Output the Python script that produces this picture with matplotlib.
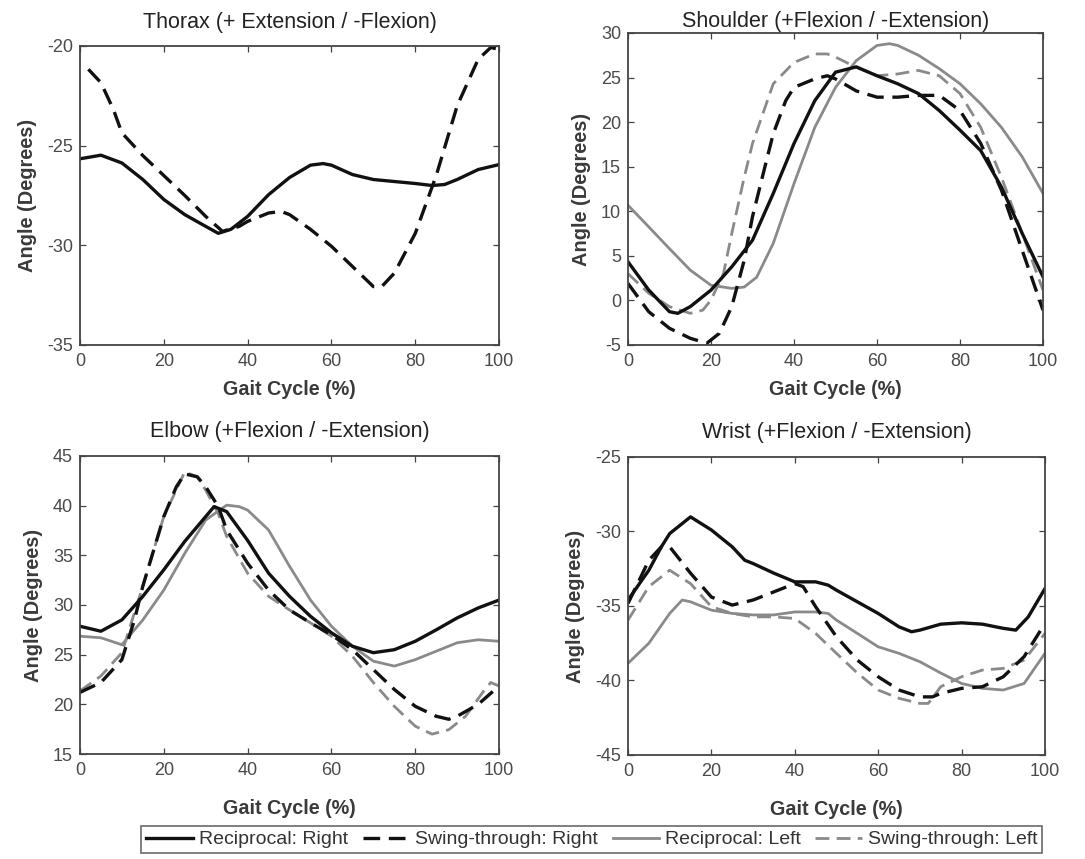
import matplotlib
matplotlib.use("Agg")
import matplotlib.pyplot as plt
from matplotlib.lines import Line2D

plt.rcParams['font.family'] = ['Liberation Sans', 'DejaVu Sans']
plt.rcParams['axes.unicode_minus'] = False

# ---------------- data ----------------
thorax_rr_x = [0, 5, 10, 15, 20, 25, 30, 33, 36, 40, 45, 50, 55, 58, 60, 65, 70, 75, 80, 84, 87, 90, 95, 100]
thorax_rr_y = [-25.66, -25.48, -25.87, -26.7, -27.7, -28.46, -29.05, -29.4, -29.2, -28.55, -27.46, -26.6,
               -25.98, -25.9, -25.98, -26.45, -26.7, -26.8, -26.9, -27.0, -26.95, -26.7, -26.2, -25.95]
thorax_sr_x = [2, 5, 8, 10, 15, 20, 25, 30, 34, 38, 40, 45, 48, 50, 55, 60, 65, 70, 72, 75, 80, 85, 90, 95, 98, 100]
thorax_sr_y = [-21.17, -21.84, -23.2, -24.36, -25.5, -26.5, -27.5, -28.55, -29.3, -29.05, -28.8, -28.38, -28.3,
               -28.46, -29.2, -30.05, -31.06, -32.07, -32.07, -31.4, -29.4, -26.5, -23.0, -20.67, -20.08, -20.17]

shoulder_rr_x = [0, 5, 10, 12, 15, 20, 25, 30, 35, 40, 45, 50, 55, 60, 65, 70, 75, 80, 85, 90, 95, 100]
shoulder_rr_y = [4.33, 1.16, -1.27, -1.45, -0.7, 1.16, 3.77, 6.75, 12.0, 17.6, 22.4, 25.6, 26.2, 25.2, 24.3,
                 23.2, 21.3, 19.1, 16.8, 12.7, 7.5, 2.65]
shoulder_sr_x = [0, 5, 10, 15, 19, 22, 25, 28, 30, 33, 35, 38, 40, 45, 48, 50, 55, 60, 65, 70, 75, 80, 85, 90, 95, 100]
shoulder_sr_y = [1.9, -1.27, -3.13, -4.25, -4.8, -3.7, -0.7, 4.5, 9.4, 15.0, 18.7, 22.4, 23.9, 24.85, 25.2,
                 24.85, 23.5, 22.8, 22.8, 23.0, 23.0, 21.3, 17.6, 12.35, 5.6, -1.1]
shoulder_rl_x = [0, 5, 10, 15, 20, 25, 28, 31, 35, 40, 45, 50, 55, 60, 63, 65, 70, 75, 80, 85, 90, 95, 100]
shoulder_rl_y = [10.67, 8.25, 5.8, 3.4, 1.7, 1.35, 1.5, 2.6, 6.4, 13.1, 19.4, 23.9, 26.9, 28.6, 28.8, 28.6,
                 27.5, 26.0, 24.3, 22.05, 19.4, 16.1, 12.0]
shoulder_sl_x = [0, 5, 10, 15, 18, 20, 23, 25, 28, 30, 35, 40, 45, 48, 50, 55, 60, 65, 70, 75, 80, 85, 90, 95, 100]
shoulder_sl_y = [3.0, 0.8, -0.7, -1.45, -1.1, 0.04, 3.0, 7.5, 13.8, 17.6, 24.3, 26.7, 27.65, 27.65, 27.3,
                 26.15, 25.2, 25.4, 25.8, 25.2, 23.2, 19.4, 13.8, 7.5, 1.15]

elbow_rr_x = [0, 5, 10, 15, 20, 25, 30, 32, 35, 40, 45, 50, 55, 60, 65, 70, 75, 80, 85, 90, 95, 100]
elbow_rr_y = [27.86, 27.36, 28.5, 30.87, 33.54, 36.4, 38.9, 39.9, 39.4, 36.5, 33.2, 30.87, 28.86, 27.2,
              25.85, 25.2, 25.5, 26.35, 27.5, 28.7, 29.7, 30.5]
elbow_sr_x = [0, 5, 10, 13, 15, 20, 23, 25, 28, 30, 33, 35, 40, 45, 50, 55, 60, 65, 70, 75, 80, 85, 88, 90, 95, 100]
elbow_sr_y = [21.2, 22.2, 24.5, 28.5, 31.9, 38.9, 41.9, 43.2, 42.9, 41.9, 39.9, 37.55, 34.2, 31.5, 29.5,
              28.2, 27.0, 25.5, 23.5, 21.5, 19.8, 18.8, 18.5, 18.8, 20.0, 21.85]
elbow_rl_x = [0, 5, 10, 15, 20, 25, 30, 35, 38, 40, 45, 50, 55, 60, 65, 70, 75, 80, 85, 90, 95, 100]
elbow_rl_y = [26.86, 26.7, 26.0, 28.5, 31.5, 35.2, 38.55, 40.05, 39.9, 39.55, 37.55, 33.9, 30.5, 27.86,
              25.85, 24.35, 23.85, 24.5, 25.35, 26.2, 26.5, 26.35]
elbow_sl_x = [0, 5, 10, 15, 20, 25, 28, 30, 33, 35, 40, 45, 50, 55, 60, 65, 70, 75, 80, 84, 88, 92, 96, 98, 100]
elbow_sl_y = [21.35, 22.85, 25.2, 31.9, 38.9, 43.4, 42.9, 41.55, 39.2, 36.9, 33.2, 30.87, 29.5, 28.2, 26.86,
              24.85, 22.2, 19.8, 17.8, 17.0, 17.45, 18.8, 21.15, 22.2, 21.85]

wrist_rr_x = [0, 5, 8, 10, 15, 20, 25, 28, 30, 35, 40, 45, 48, 50, 55, 60, 65, 68, 70, 75, 80, 85, 90, 93, 96, 100]
wrist_rr_y = [-34.6, -32.6, -31.03, -30.14, -29.02, -29.9, -31.03, -31.93, -32.15, -32.8, -33.38, -33.38,
              -33.6, -33.94, -34.72, -35.5, -36.4, -36.73, -36.62, -36.22, -36.13, -36.22, -36.5, -36.62,
              -35.73, -33.83]
wrist_sr_x = [0, 5, 8, 10, 15, 20, 25, 30, 35, 40, 42, 45, 50, 55, 60, 65, 70, 73, 75, 80, 85, 90, 95, 100]
wrist_sr_y = [-34.83, -31.93, -31.03, -31.03, -32.8, -34.4, -34.94, -34.6, -34.05, -33.5, -33.7, -35.05,
              -37.07, -38.63, -39.75, -40.64, -41.1, -41.1, -40.87, -40.53, -40.42, -39.75, -38.4, -36.17]
wrist_rl_x = [0, 5, 10, 13, 15, 20, 25, 30, 35, 40, 45, 48, 50, 55, 60, 65, 70, 75, 80, 85, 90, 95, 100]
wrist_rl_y = [-38.85, -37.5, -35.5, -34.6, -34.72, -35.28, -35.5, -35.6, -35.6, -35.4, -35.4, -35.5, -35.95,
              -36.84, -37.74, -38.18, -38.74, -39.5, -40.2, -40.53, -40.64, -40.2, -38.18]
wrist_sl_x = [0, 5, 10, 15, 20, 25, 30, 35, 40, 45, 50, 55, 60, 65, 70, 72, 75, 80, 85, 90, 95, 100]
wrist_sl_y = [-35.95, -33.7, -32.6, -33.5, -35.05, -35.5, -35.73, -35.73, -35.84, -36.84, -38.18, -39.5,
              -40.64, -41.2, -41.54, -41.54, -40.42, -39.75, -39.3, -39.19, -38.63, -36.84]

titles = ['Thorax (+ Extension / -Flexion)', 'Shoulder (+Flexion / -Extension)',
          'Elbow (+Flexion / -Extension)', 'Wrist (+Flexion / -Extension)']
ylims = [(-35, -20), (-5, 30), (15, 45), (-45, -25)]
yticks = [[-35, -30, -25, -20], [-5, 0, 5, 10, 15, 20, 25, 30],
          [15, 20, 25, 30, 35, 40, 45], [-45, -40, -35, -30, -25]]
xticks = [0, 20, 40, 60, 80, 100]
legend_labels = ['Reciprocal: Right', 'Swing-through: Right', 'Reciprocal: Left', 'Swing-through: Left']

# ---------------- styles ----------------
BLACK = '#111111'
GRAY = '#8a8a8a'
styles = {
    'rr': dict(color=BLACK, lw=2.4, ls='-'),
    'sr': dict(color=BLACK, lw=2.4, ls=(0, (5, 2.6))),
    'rl': dict(color=GRAY, lw=2.0, ls='-'),
    'sl': dict(color=GRAY, lw=2.0, ls=(0, (5, 2.6))),
}

panels = [
    {'rr': (thorax_rr_x, thorax_rr_y), 'sr': (thorax_sr_x, thorax_sr_y)},
    {'rr': (shoulder_rr_x, shoulder_rr_y), 'sr': (shoulder_sr_x, shoulder_sr_y),
     'rl': (shoulder_rl_x, shoulder_rl_y), 'sl': (shoulder_sl_x, shoulder_sl_y)},
    {'rr': (elbow_rr_x, elbow_rr_y), 'sr': (elbow_sr_x, elbow_sr_y),
     'rl': (elbow_rl_x, elbow_rl_y), 'sl': (elbow_sl_x, elbow_sl_y)},
    {'rr': (wrist_rr_x, wrist_rr_y), 'sr': (wrist_sr_x, wrist_sr_y),
     'rl': (wrist_rl_x, wrist_rl_y), 'sl': (wrist_sl_x, wrist_sl_y)},
]

positions = [
    [0.0737, 0.5984, 0.3863, 0.3481],
    [0.5788, 0.5984, 0.3825, 0.3632],
    [0.0737, 0.1222, 0.3863, 0.3470],
    [0.5788, 0.1211, 0.3843, 0.3469],
]
title_pads = [13, 4.5, 13.5, 14]

fig = plt.figure(figsize=(10.85, 8.59), dpi=100)
fig.patch.set_facecolor('white')

for i, (pos, data) in enumerate(zip(positions, panels)):
    ax = fig.add_axes(pos)
    for key in ['rl', 'sl', 'rr', 'sr']:
        if key in data:
            x, y = data[key]
            ax.plot(x, y, **styles[key])
    ax.set_xlim(0, 100)
    ax.set_ylim(*ylims[i])
    ax.set_xticks(xticks)
    ax.set_yticks(yticks[i])
    ax.tick_params(direction='in', top=True, right=True, length=4, width=0.9,
                   labelsize=13, colors='#444444', labelcolor='#4a4a4a')
    ax.tick_params(axis='x', pad=6)
    ax.tick_params(axis='y', pad=5)
    for sp in ax.spines.values():
        sp.set_color('#444444')
        sp.set_linewidth(1.3)
    ax.set_title(titles[i], fontsize=15.5, color='#222222', pad=title_pads[i])
    ax.set_xlabel('Gait Cycle (%)', fontsize=14.2, fontweight='bold', color='#3a3a3a',
                  labelpad=(7 if i < 2 else 14))
    ax.set_ylabel('Angle (Degrees)', fontsize=14.4, fontweight='bold', color='#3a3a3a', labelpad=7)

handles = [Line2D([], [], **styles[k]) for k in ['rr', 'sr', 'rl', 'sl']]
leg = fig.legend(handles, legend_labels, loc='center', ncol=4,
                 bbox_to_anchor=(0.5456, 0.0227), fontsize=14, frameon=True,
                 fancybox=False, edgecolor='#444444', handlelength=2.4,
                 handletextpad=0.3, columnspacing=0.75, borderpad=0.25, borderaxespad=0)
leg.get_frame().set_linewidth(1.2)
for t in leg.get_texts():
    t.set_color('#333333')

fig.savefig('out.png', dpi=100, facecolor='white')
